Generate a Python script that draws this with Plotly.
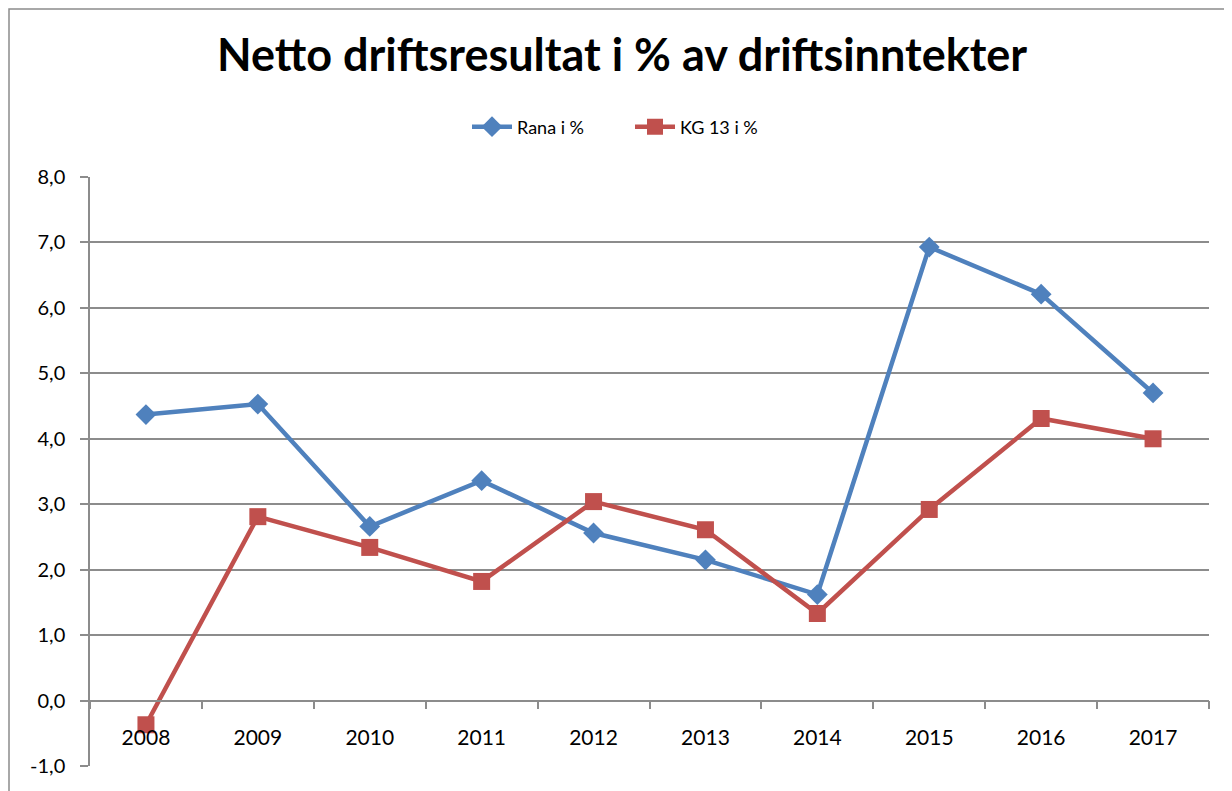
import plotly.graph_objects as go

years = ["2008", "2009", "2010", "2011", "2012", "2013", "2014", "2015", "2016", "2017"]
rana = [4.37, 4.53, 2.66, 3.36, 2.56, 2.15, 1.62, 6.93, 6.21, 4.70]
kg13 = [-0.37, 2.81, 2.34, 1.82, 3.04, 2.61, 1.33, 2.92, 4.31, 4.00]
y_ticks = [-1, 0, 1, 2, 3, 4, 5, 6, 7, 8]
y_ticktext = [f"{v:.1f}".replace(".", ",") for v in y_ticks]

title_text = "Netto driftsresultat i % av driftsinntekter"
blue = "#4F81BD"
red = "#C0504D"
grid = "#8C8C8C"

fig = go.Figure()
fig.add_trace(go.Scatter(
    x=years, y=rana, name="Rana i %", mode="lines+markers",
    line=dict(color=blue, width=4.5),
    marker=dict(symbol="diamond", size=16, color=blue),
))
fig.add_trace(go.Scatter(
    x=years, y=kg13, name="KG 13 i %", mode="lines+markers",
    line=dict(color=red, width=4.5),
    marker=dict(symbol="square", size=17, color=red),
))

ymin, ymax = y_ticks[0], y_ticks[-1]
zero_pos = (0 - ymin) / (ymax - ymin)

# page body has an 8px offset; margins compensate
off = 8
L, R, T, B = 90 - off, 23 + off, 177 - off, 25 + off
pw = 1232 - L - R
ph = 791 - T - B

fig.update_layout(
    width=1232, height=791,
    paper_bgcolor="white", plot_bgcolor="white",
    margin=dict(l=L, r=R, t=T, b=B),
    font=dict(family="Lato, sans-serif", color="black"),
    title=dict(
        text="<b>" + title_text + "</b>",
        x=(622 - off) / 1232, xref="container", xanchor="center",
        y=1 - (55 - off) / 791, yref="container", yanchor="middle",
        font=dict(size=45, family="Lato, sans-serif", color="black"),
    ),
    legend=dict(
        orientation="h", x=(630 - 90) / pw, xanchor="center", xref="paper",
        y=(766 - 127) / ph, yanchor="middle",
        font=dict(size=18, family="Lato, sans-serif"),
        bgcolor="rgba(0,0,0,0)",
        itemwidth=40, entrywidth=108, entrywidthmode="pixels",
    ),
    showlegend=True,
    xaxis=dict(
        type="category",
        range=[-0.5, len(years) - 0.5],
        anchor="free", position=zero_pos,
        showline=True, linecolor=grid, linewidth=1.5,
        ticks="outside", tickson="boundaries", ticklen=8, tickwidth=1.5, tickcolor=grid,
        showgrid=False,
        tickfont=dict(size=21, family="Lato, sans-serif"),
        ticklabelstandoff=18,
    ),
    yaxis=dict(
        range=[ymin, ymax],
        tickvals=y_ticks, ticktext=y_ticktext,
        showline=True, linecolor=grid, linewidth=1.5,
        ticks="outside", ticklen=8, tickwidth=1.5, tickcolor=grid,
        showgrid=True, gridcolor=grid, gridwidth=1.5,
        zeroline=False,
        tickfont=dict(size=20, family="Lato, sans-serif"),
        ticklabelstandoff=11,
    ),
)

# outer chart frame
fig.add_shape(type="rect", xref="paper", yref="paper",
              x0=(9 - 90) / pw, x1=1.2, y0=-0.2, y1=(766 - 9) / ph,
              line=dict(color="#8C8C8C", width=1.5), layer="below")

fig.write_html("out.html")
